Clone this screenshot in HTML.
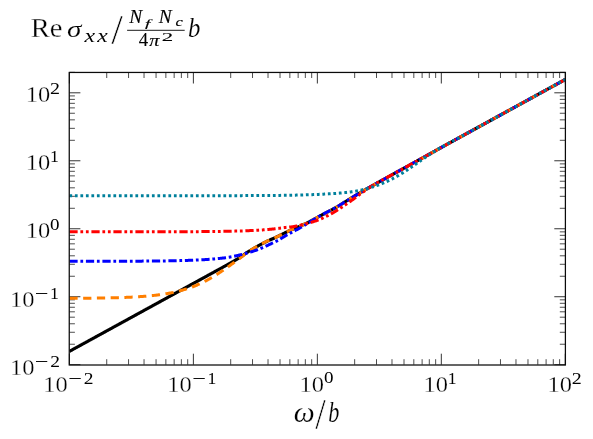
<!DOCTYPE html>
<html><head><meta charset="utf-8"><title>plot</title>
<style>html,body{margin:0;padding:0;background:#fff}svg{display:block}text{font-family:"Liberation Serif",serif;fill:#000}.i{font-style:italic}</style></head><body>
<svg width="593" height="439" viewBox="0 0 593 439">
<rect width="593" height="439" fill="#fff"/>
<defs><clipPath id="c"><rect x="69.40" y="72.50" width="495.90" height="292.20"/></clipPath></defs>
<path d="M69.40,364.70v-11.00 M69.40,72.50v11.00 M193.38,364.70v-11.00 M193.38,72.50v11.00 M317.35,364.70v-11.00 M317.35,72.50v11.00 M441.32,364.70v-11.00 M441.32,72.50v11.00 M565.30,364.70v-11.00 M565.30,72.50v11.00 M69.40,364.70h11.00 M565.30,364.70h-11.00 M69.40,296.73h11.00 M565.30,296.73h-11.00 M69.40,228.75h11.00 M565.30,228.75h-11.00 M69.40,160.78h11.00 M565.30,160.78h-11.00 M69.40,92.80h11.00 M565.30,92.80h-11.00" stroke="#000" stroke-width="0.8" fill="none"/>
<path d="M106.72,364.70v-5.50 M106.72,72.50v5.50 M128.55,364.70v-5.50 M128.55,72.50v5.50 M144.04,364.70v-5.50 M144.04,72.50v5.50 M156.05,364.70v-5.50 M156.05,72.50v5.50 M165.87,364.70v-5.50 M165.87,72.50v5.50 M174.17,364.70v-5.50 M174.17,72.50v5.50 M181.36,364.70v-5.50 M181.36,72.50v5.50 M187.70,364.70v-5.50 M187.70,72.50v5.50 M230.70,364.70v-5.50 M230.70,72.50v5.50 M252.53,364.70v-5.50 M252.53,72.50v5.50 M268.02,364.70v-5.50 M268.02,72.50v5.50 M280.03,364.70v-5.50 M280.03,72.50v5.50 M289.85,364.70v-5.50 M289.85,72.50v5.50 M298.15,364.70v-5.50 M298.15,72.50v5.50 M305.34,364.70v-5.50 M305.34,72.50v5.50 M311.68,364.70v-5.50 M311.68,72.50v5.50 M354.67,364.70v-5.50 M354.67,72.50v5.50 M376.50,364.70v-5.50 M376.50,72.50v5.50 M391.99,364.70v-5.50 M391.99,72.50v5.50 M404.00,364.70v-5.50 M404.00,72.50v5.50 M413.82,364.70v-5.50 M413.82,72.50v5.50 M422.12,364.70v-5.50 M422.12,72.50v5.50 M429.31,364.70v-5.50 M429.31,72.50v5.50 M435.65,364.70v-5.50 M435.65,72.50v5.50 M478.65,364.70v-5.50 M478.65,72.50v5.50 M500.48,364.70v-5.50 M500.48,72.50v5.50 M515.97,364.70v-5.50 M515.97,72.50v5.50 M527.98,364.70v-5.50 M527.98,72.50v5.50 M537.80,364.70v-5.50 M537.80,72.50v5.50 M546.10,364.70v-5.50 M546.10,72.50v5.50 M553.29,364.70v-5.50 M553.29,72.50v5.50 M559.63,364.70v-5.50 M559.63,72.50v5.50 M69.40,344.24h5.50 M565.30,344.24h-5.50 M69.40,332.27h5.50 M565.30,332.27h-5.50 M69.40,323.77h5.50 M565.30,323.77h-5.50 M69.40,317.19h5.50 M565.30,317.19h-5.50 M69.40,311.81h5.50 M565.30,311.81h-5.50 M69.40,307.25h5.50 M565.30,307.25h-5.50 M69.40,303.31h5.50 M565.30,303.31h-5.50 M69.40,299.84h5.50 M565.30,299.84h-5.50 M69.40,276.26h5.50 M565.30,276.26h-5.50 M69.40,264.29h5.50 M565.30,264.29h-5.50 M69.40,255.80h5.50 M565.30,255.80h-5.50 M69.40,249.21h5.50 M565.30,249.21h-5.50 M69.40,243.83h5.50 M565.30,243.83h-5.50 M69.40,239.28h5.50 M565.30,239.28h-5.50 M69.40,235.34h5.50 M565.30,235.34h-5.50 M69.40,231.86h5.50 M565.30,231.86h-5.50 M69.40,208.29h5.50 M565.30,208.29h-5.50 M69.40,196.32h5.50 M565.30,196.32h-5.50 M69.40,187.82h5.50 M565.30,187.82h-5.50 M69.40,181.24h5.50 M565.30,181.24h-5.50 M69.40,175.86h5.50 M565.30,175.86h-5.50 M69.40,171.30h5.50 M565.30,171.30h-5.50 M69.40,167.36h5.50 M565.30,167.36h-5.50 M69.40,163.89h5.50 M565.30,163.89h-5.50 M69.40,140.31h5.50 M565.30,140.31h-5.50 M69.40,128.34h5.50 M565.30,128.34h-5.50 M69.40,119.85h5.50 M565.30,119.85h-5.50 M69.40,113.26h5.50 M565.30,113.26h-5.50 M69.40,107.88h5.50 M565.30,107.88h-5.50 M69.40,103.33h5.50 M565.30,103.33h-5.50 M69.40,99.39h5.50 M565.30,99.39h-5.50 M69.40,95.91h5.50 M565.30,95.91h-5.50 M69.40,72.34h5.50 M565.30,72.34h-5.50" stroke="#000" stroke-width="0.7" fill="none"/>
<g clip-path="url(#c)" fill="none" stroke-width="3.00">
<path d="M69.40,351.37 L70.02,351.03 L70.64,350.69 L71.26,350.35 L71.88,350.01 L72.50,349.67 L73.12,349.33 L73.74,348.99 L74.36,348.65 L74.98,348.31 L75.60,347.97 L76.22,347.63 L76.84,347.29 L77.46,346.95 L78.08,346.61 L78.70,346.27 L79.32,345.93 L79.94,345.59 L80.56,345.25 L81.18,344.91 L81.80,344.57 L82.42,344.23 L83.04,343.89 L83.66,343.55 L84.28,343.21 L84.90,342.87 L85.52,342.53 L86.14,342.19 L86.76,341.85 L87.38,341.51 L88.00,341.17 L88.62,340.83 L89.24,340.49 L89.86,340.15 L90.48,339.81 L91.10,339.47 L91.72,339.13 L92.34,338.79 L92.96,338.45 L93.58,338.11 L94.19,337.77 L94.81,337.43 L95.43,337.09 L96.05,336.75 L96.67,336.41 L97.29,336.07 L97.91,335.73 L98.53,335.39 L99.15,335.05 L99.77,334.71 L100.39,334.38 L101.01,334.04 L101.63,333.70 L102.25,333.36 L102.87,333.02 L103.49,332.68 L104.11,332.34 L104.73,332.00 L105.35,331.66 L105.97,331.32 L106.59,330.98 L107.21,330.64 L107.83,330.30 L108.45,329.96 L109.07,329.62 L109.69,329.28 L110.31,328.94 L110.93,328.60 L111.55,328.26 L112.17,327.92 L112.79,327.58 L113.41,327.24 L114.03,326.90 L114.65,326.56 L115.27,326.22 L115.89,325.88 L116.51,325.54 L117.13,325.20 L117.75,324.86 L118.37,324.52 L118.99,324.18 L119.61,323.84 L120.23,323.50 L120.85,323.16 L121.47,322.82 L122.09,322.48 L122.71,322.14 L123.33,321.80 L123.95,321.46 L124.57,321.12 L125.19,320.78 L125.81,320.44 L126.43,320.10 L127.05,319.76 L127.67,319.42 L128.29,319.08 L128.91,318.74 L129.53,318.40 L130.15,318.06 L130.77,317.72 L131.39,317.38 L132.01,317.04 L132.63,316.70 L133.25,316.36 L133.87,316.02 L134.49,315.68 L135.11,315.34 L135.73,315.00 L136.35,314.66 L136.97,314.32 L137.59,313.98 L138.21,313.64 L138.83,313.30 L139.45,312.96 L140.07,312.62 L140.69,312.28 L141.31,311.94 L141.93,311.60 L142.55,311.26 L143.17,310.92 L143.79,310.58 L144.40,310.24 L145.02,309.90 L145.64,309.56 L146.26,309.22 L146.88,308.88 L147.50,308.54 L148.12,308.20 L148.74,307.86 L149.36,307.52 L149.98,307.19 L150.60,306.85 L151.22,306.51 L151.84,306.17 L152.46,305.83 L153.08,305.49 L153.70,305.15 L154.32,304.81 L154.94,304.47 L155.56,304.13 L156.18,303.79 L156.80,303.45 L157.42,303.11 L158.04,302.77 L158.66,302.43 L159.28,302.09 L159.90,301.75 L160.52,301.41 L161.14,301.07 L161.76,300.73 L162.38,300.39 L163.00,300.05 L163.62,299.71 L164.24,299.37 L164.86,299.03 L165.48,298.69 L166.10,298.35 L166.72,298.01 L167.34,297.67 L167.96,297.33 L168.58,296.99 L169.20,296.65 L169.82,296.31 L170.44,295.97 L171.06,295.63 L171.68,295.29 L172.30,294.95 L172.92,294.61 L173.54,294.27 L174.16,293.93 L174.78,293.59 L175.40,293.25 L176.02,292.91 L176.64,292.57 L177.26,292.23 L177.88,291.89 L178.50,291.55 L179.12,291.21 L179.74,290.87 L180.36,290.53 L180.98,290.19 L181.60,289.85 L182.22,289.51 L182.84,289.17 L183.46,288.83 L184.08,288.49 L184.70,288.15 L185.32,287.81 L185.94,287.47 L186.56,287.13 L187.18,286.79 L187.80,286.45 L188.42,286.11 L189.04,285.77 L189.66,285.43 L190.28,285.09 L190.90,284.75 L191.52,284.41 L192.14,284.07 L192.76,283.73 L193.38,283.39 L193.99,283.05 L194.61,282.71 L195.23,282.37 L195.85,282.03 L196.47,281.69 L197.09,281.35 L197.71,281.01 L198.33,280.67 L198.95,280.33 L199.57,280.00 L200.19,279.66 L200.81,279.32 L201.43,278.98 L202.05,278.64 L202.67,278.30 L203.29,277.96 L203.91,277.62 L204.53,277.28 L205.15,276.94 L205.77,276.60 L206.39,276.26 L207.01,275.92 L207.63,275.58 L208.25,275.24 L208.87,274.90 L209.49,274.56 L210.11,274.22 L210.73,273.88 L211.35,273.54 L211.97,273.20 L212.59,272.86 L213.21,272.52 L213.83,272.18 L214.45,271.84 L215.07,271.50 L215.69,271.16 L216.31,270.82 L216.93,270.48 L217.55,270.14 L218.17,269.80 L218.79,269.46 L219.41,269.12 L220.03,268.78 L220.65,268.44 L221.27,268.10 L221.89,267.76 L222.51,267.42 L223.13,267.08 L223.75,266.74 L224.37,266.40 L224.99,266.06 L225.61,265.72 L226.23,265.38 L226.85,265.03 L227.47,264.69 L228.09,264.34 L228.71,263.99 L229.33,263.64 L229.95,263.29 L230.57,262.94 L231.19,262.59 L231.81,262.23 L232.43,261.88 L233.05,261.52 L233.67,261.16 L234.29,260.80 L234.91,260.44 L235.53,260.08 L236.15,259.71 L236.77,259.35 L237.39,258.98 L238.01,258.62 L238.63,258.25 L239.25,257.88 L239.87,257.51 L240.49,257.13 L241.11,256.72 L241.73,256.29 L242.35,255.85 L242.97,255.39 L243.58,254.93 L244.20,254.46 L244.82,254.00 L245.44,253.55 L246.06,253.11 L246.68,252.69 L247.30,252.30 L247.92,251.91 L248.54,251.52 L249.16,251.14 L249.78,250.76 L250.40,250.38 L251.02,250.00 L251.64,249.63 L252.26,249.27 L252.88,248.90 L253.50,248.54 L254.12,248.18 L254.74,247.83 L255.36,247.47 L255.98,247.12 L256.60,246.77 L257.22,246.41 L257.84,246.06 L258.46,245.72 L259.08,245.37 L259.70,245.03 L260.32,244.69 L260.94,244.35 L261.56,244.02 L262.18,243.70 L262.80,243.38 L263.42,243.06 L264.04,242.75 L264.66,242.44 L265.28,242.13 L265.90,241.82 L266.52,241.51 L267.14,241.21 L267.76,240.91 L268.38,240.62 L269.00,240.35 L269.62,240.08 L270.24,239.82 L270.86,239.56 L271.48,239.29 L272.10,239.03 L272.72,238.76 L273.34,238.49 L273.96,238.21 L274.58,237.92 L275.20,237.62 L275.82,237.33 L276.44,237.03 L277.06,236.73 L277.68,236.43 L278.30,236.13 L278.92,235.82 L279.54,235.52 L280.16,235.22 L280.78,234.92 L281.40,234.62 L282.02,234.31 L282.64,234.00 L283.26,233.70 L283.88,233.39 L284.50,233.08 L285.12,232.78 L285.74,232.47 L286.36,232.17 L286.98,231.86 L287.60,231.56 L288.22,231.26 L288.84,230.97 L289.46,230.67 L290.08,230.38 L290.70,230.09 L291.32,229.82 L291.94,229.54 L292.56,229.28 L293.17,229.01 L293.79,228.75 L294.41,228.49 L295.03,228.24 L295.65,227.98 L296.27,227.73 L296.89,227.47 L297.51,227.21 L298.13,226.95 L298.75,226.68 L299.37,226.41 L299.99,226.13 L300.61,225.86 L301.23,225.58 L301.85,225.31 L302.47,225.03 L303.09,224.76 L303.71,224.49 L304.33,224.21 L304.95,223.93 L305.57,223.65 L306.19,223.36 L306.81,223.07 L307.43,222.77 L308.05,222.47 L308.67,222.15 L309.29,221.83 L309.91,221.50 L310.53,221.16 L311.15,220.82 L311.77,220.48 L312.39,220.14 L313.01,219.80 L313.63,219.46 L314.25,219.12 L314.87,218.78 L315.49,218.44 L316.11,218.10 L316.73,217.76 L317.35,217.42 L317.97,217.08 L318.59,216.74 L319.21,216.40 L319.83,216.06 L320.45,215.72 L321.07,215.38 L321.69,215.05 L322.31,214.72 L322.93,214.39 L323.55,214.07 L324.17,213.74 L324.79,213.42 L325.41,213.10 L326.03,212.78 L326.65,212.46 L327.27,212.14 L327.89,211.82 L328.51,211.50 L329.13,211.18 L329.75,210.86 L330.37,210.53 L330.99,210.21 L331.61,209.88 L332.23,209.55 L332.85,209.22 L333.47,208.88 L334.09,208.54 L334.71,208.20 L335.33,207.85 L335.95,207.49 L336.57,207.12 L337.19,206.76 L337.81,206.38 L338.43,206.01 L339.05,205.62 L339.67,205.24 L340.29,204.85 L340.91,204.46 L341.53,204.08 L342.14,203.68 L342.76,203.29 L343.38,202.90 L344.00,202.51 L344.62,202.13 L345.24,201.74 L345.86,201.36 L346.48,200.98 L347.10,200.60 L347.72,200.22 L348.34,199.85 L348.96,199.47 L349.58,199.09 L350.20,198.72 L350.82,198.34 L351.44,197.96 L352.06,197.58 L352.68,197.21 L353.30,196.83 L353.92,196.46 L354.54,196.08 L355.16,195.71 L355.78,195.34 L356.40,194.96 L357.02,194.59 L357.64,194.22 L358.26,193.86 L358.88,193.49 L359.50,193.13 L360.12,192.76 L360.74,192.40 L361.36,192.04 L361.98,191.68 L362.60,191.32 L363.22,190.95 L363.84,190.59 L364.46,190.23 L365.08,189.87 L365.70,189.51 L366.32,189.16 L366.94,188.80 L367.56,188.44 L368.18,188.08 L368.80,187.73 L369.42,187.37 L370.04,187.02 L370.66,186.66 L371.28,186.31 L371.90,185.96 L372.52,185.61 L373.14,185.25 L373.76,184.91 L374.38,184.56 L375.00,184.21 L375.62,183.86 L376.24,183.52 L376.86,183.17 L377.48,182.83 L378.10,182.48 L378.72,182.14 L379.34,181.79 L379.96,181.45 L380.58,181.10 L381.20,180.76 L381.82,180.41 L382.44,180.07 L383.06,179.73 L383.68,179.38 L384.30,179.04 L384.92,178.70 L385.54,178.35 L386.16,178.01 L386.78,177.67 L387.40,177.33 L388.02,176.98 L388.64,176.64 L389.26,176.30 L389.88,175.95 L390.50,175.61 L391.12,175.27 L391.74,174.93 L392.35,174.58 L392.97,174.24 L393.59,173.90 L394.21,173.56 L394.83,173.21 L395.45,172.87 L396.07,172.53 L396.69,172.19 L397.31,171.85 L397.93,171.50 L398.55,171.16 L399.17,170.82 L399.79,170.48 L400.41,170.14 L401.03,169.80 L401.65,169.45 L402.27,169.11 L402.89,168.77 L403.51,168.43 L404.13,168.09 L404.75,167.75 L405.37,167.40 L405.99,167.06 L406.61,166.72 L407.23,166.38 L407.85,166.04 L408.47,165.70 L409.09,165.36 L409.71,165.01 L410.33,164.67 L410.95,164.33 L411.57,163.99 L412.19,163.65 L412.81,163.30 L413.43,162.96 L414.05,162.62 L414.67,162.28 L415.29,161.94 L415.91,161.60 L416.53,161.25 L417.15,160.91 L417.77,160.57 L418.39,160.23 L419.01,159.88 L419.63,159.54 L420.25,159.20 L420.87,158.86 L421.49,158.51 L422.11,158.17 L422.73,157.83 L423.35,157.48 L423.97,157.14 L424.59,156.79 L425.21,156.45 L425.83,156.10 L426.45,155.76 L427.07,155.41 L427.69,155.07 L428.31,154.72 L428.93,154.38 L429.55,154.03 L430.17,153.69 L430.79,153.34 L431.41,153.00 L432.03,152.65 L432.65,152.31 L433.27,151.96 L433.89,151.62 L434.51,151.27 L435.13,150.92 L435.75,150.58 L436.37,150.23 L436.99,149.89 L437.61,149.54 L438.23,149.20 L438.85,148.85 L439.47,148.51 L440.09,148.16 L440.71,147.82 L441.32,147.48 L441.94,147.13 L442.56,146.79 L443.18,146.45 L443.80,146.10 L444.42,145.76 L445.04,145.42 L445.66,145.07 L446.28,144.73 L446.90,144.39 L447.52,144.05 L448.14,143.71 L448.76,143.37 L449.38,143.03 L450.00,142.69 L450.62,142.35 L451.24,142.01 L451.86,141.67 L452.48,141.33 L453.10,140.99 L453.72,140.65 L454.34,140.31 L454.96,139.97 L455.58,139.63 L456.20,139.29 L456.82,138.95 L457.44,138.61 L458.06,138.27 L458.68,137.93 L459.30,137.59 L459.92,137.25 L460.54,136.91 L461.16,136.57 L461.78,136.23 L462.40,135.89 L463.02,135.55 L463.64,135.21 L464.26,134.87 L464.88,134.53 L465.50,134.19 L466.12,133.85 L466.74,133.51 L467.36,133.17 L467.98,132.83 L468.60,132.49 L469.22,132.15 L469.84,131.81 L470.46,131.47 L471.08,131.13 L471.70,130.79 L472.32,130.45 L472.94,130.11 L473.56,129.77 L474.18,129.43 L474.80,129.09 L475.42,128.75 L476.04,128.41 L476.66,128.07 L477.28,127.73 L477.90,127.39 L478.52,127.05 L479.14,126.71 L479.76,126.37 L480.38,126.03 L481.00,125.69 L481.62,125.35 L482.24,125.01 L482.86,124.67 L483.48,124.33 L484.10,123.99 L484.72,123.65 L485.34,123.31 L485.96,122.97 L486.58,122.63 L487.20,122.29 L487.82,121.95 L488.44,121.61 L489.06,121.27 L489.68,120.93 L490.30,120.59 L490.91,120.25 L491.53,119.91 L492.15,119.57 L492.77,119.23 L493.39,118.89 L494.01,118.55 L494.63,118.21 L495.25,117.87 L495.87,117.53 L496.49,117.19 L497.11,116.86 L497.73,116.52 L498.35,116.18 L498.97,115.84 L499.59,115.50 L500.21,115.16 L500.83,114.82 L501.45,114.48 L502.07,114.14 L502.69,113.80 L503.31,113.46 L503.93,113.12 L504.55,112.78 L505.17,112.44 L505.79,112.10 L506.41,111.76 L507.03,111.42 L507.65,111.08 L508.27,110.74 L508.89,110.40 L509.51,110.06 L510.13,109.72 L510.75,109.38 L511.37,109.04 L511.99,108.70 L512.61,108.36 L513.23,108.02 L513.85,107.68 L514.47,107.34 L515.09,107.00 L515.71,106.66 L516.33,106.32 L516.95,105.98 L517.57,105.64 L518.19,105.30 L518.81,104.96 L519.43,104.62 L520.05,104.28 L520.67,103.94 L521.29,103.60 L521.91,103.26 L522.53,102.92 L523.15,102.58 L523.77,102.24 L524.39,101.90 L525.01,101.56 L525.63,101.22 L526.25,100.88 L526.87,100.54 L527.49,100.20 L528.11,99.86 L528.73,99.52 L529.35,99.18 L529.97,98.84 L530.59,98.50 L531.21,98.16 L531.83,97.82 L532.45,97.48 L533.07,97.14 L533.69,96.80 L534.31,96.46 L534.93,96.12 L535.55,95.78 L536.17,95.44 L536.79,95.10 L537.41,94.76 L538.03,94.42 L538.65,94.08 L539.27,93.74 L539.89,93.40 L540.50,93.06 L541.12,92.72 L541.74,92.38 L542.36,92.04 L542.98,91.70 L543.60,91.36 L544.22,91.02 L544.84,90.68 L545.46,90.34 L546.08,90.00 L546.70,89.67 L547.32,89.33 L547.94,88.99 L548.56,88.65 L549.18,88.31 L549.80,87.97 L550.42,87.63 L551.04,87.29 L551.66,86.95 L552.28,86.61 L552.90,86.27 L553.52,85.93 L554.14,85.59 L554.76,85.25 L555.38,84.91 L556.00,84.57 L556.62,84.23 L557.24,83.89 L557.86,83.55 L558.48,83.21 L559.10,82.87 L559.72,82.53 L560.34,82.19 L560.96,81.85 L561.58,81.51 L562.20,81.17 L562.82,80.83 L563.44,80.49 L564.06,80.15 L564.68,79.81 L565.30,79.47" stroke="#000000" stroke-width="3.15"/>
<path d="M69.40,298.34 L70.02,298.33 L70.64,298.33 L71.26,298.33 L71.88,298.32 L72.50,298.32 L73.12,298.32 L73.74,298.31 L74.36,298.31 L74.98,298.31 L75.60,298.30 L76.22,298.30 L76.84,298.29 L77.46,298.29 L78.08,298.29 L78.70,298.28 L79.32,298.28 L79.94,298.27 L80.56,298.27 L81.18,298.26 L81.80,298.26 L82.42,298.25 L83.04,298.25 L83.66,298.24 L84.28,298.24 L84.90,298.23 L85.52,298.23 L86.14,298.22 L86.76,298.21 L87.38,298.21 L88.00,298.20 L88.62,298.20 L89.24,298.19 L89.86,298.18 L90.48,298.18 L91.10,298.17 L91.72,298.16 L92.34,298.15 L92.96,298.15 L93.58,298.14 L94.19,298.13 L94.81,298.12 L95.43,298.12 L96.05,298.11 L96.67,298.10 L97.29,298.09 L97.91,298.08 L98.53,298.07 L99.15,298.06 L99.77,298.05 L100.39,298.04 L101.01,298.03 L101.63,298.02 L102.25,298.01 L102.87,298.00 L103.49,297.99 L104.11,297.98 L104.73,297.97 L105.35,297.96 L105.97,297.95 L106.59,297.93 L107.21,297.92 L107.83,297.91 L108.45,297.89 L109.07,297.88 L109.69,297.87 L110.31,297.85 L110.93,297.84 L111.55,297.82 L112.17,297.81 L112.79,297.79 L113.41,297.78 L114.03,297.76 L114.65,297.75 L115.27,297.73 L115.89,297.71 L116.51,297.69 L117.13,297.68 L117.75,297.66 L118.37,297.64 L118.99,297.62 L119.61,297.60 L120.23,297.58 L120.85,297.56 L121.47,297.54 L122.09,297.52 L122.71,297.49 L123.33,297.47 L123.95,297.45 L124.57,297.42 L125.19,297.40 L125.81,297.38 L126.43,297.35 L127.05,297.32 L127.67,297.30 L128.29,297.27 L128.91,297.24 L129.53,297.21 L130.15,297.19 L130.77,297.16 L131.39,297.13 L132.01,297.10 L132.63,297.06 L133.25,297.03 L133.87,297.00 L134.49,296.96 L135.11,296.93 L135.73,296.89 L136.35,296.86 L136.97,296.82 L137.59,296.78 L138.21,296.74 L138.83,296.70 L139.45,296.66 L140.07,296.62 L140.69,296.58 L141.31,296.54 L141.93,296.49 L142.55,296.45 L143.17,296.40 L143.79,296.35 L144.40,296.31 L145.02,296.26 L145.64,296.21 L146.26,296.16 L146.88,296.10 L147.50,296.05 L148.12,295.99 L148.74,295.94 L149.36,295.88 L149.98,295.82 L150.60,295.76 L151.22,295.70 L151.84,295.64 L152.46,295.57 L153.08,295.51 L153.70,295.44 L154.32,295.37 L154.94,295.30 L155.56,295.23 L156.18,295.16 L156.80,295.08 L157.42,295.01 L158.04,294.93 L158.66,294.85 L159.28,294.77 L159.90,294.69 L160.52,294.60 L161.14,294.51 L161.76,294.43 L162.38,294.34 L163.00,294.24 L163.62,294.15 L164.24,294.05 L164.86,293.95 L165.48,293.85 L166.10,293.75 L166.72,293.65 L167.34,293.54 L167.96,293.43 L168.58,293.32 L169.20,293.21 L169.82,293.09 L170.44,292.97 L171.06,292.85 L171.68,292.73 L172.30,292.60 L172.92,292.48 L173.54,292.34 L174.16,292.21 L174.78,292.08 L175.40,291.94 L176.02,291.79 L176.64,291.65 L177.26,291.50 L177.88,291.35 L178.50,291.20 L179.12,291.04 L179.74,290.88 L180.36,290.72 L180.98,290.56 L181.60,290.39 L182.22,290.21 L182.84,290.04 L183.46,289.86 L184.08,289.68 L184.70,289.49 L185.32,289.30 L185.94,289.11 L186.56,288.92 L187.18,288.72 L187.80,288.51 L188.42,288.31 L189.04,288.10 L189.66,287.88 L190.28,287.66 L190.90,287.44 L191.52,287.22 L192.14,286.99 L192.76,286.75 L193.38,286.51 L193.99,286.27 L194.61,286.03 L195.23,285.78 L195.85,285.52 L196.47,285.26 L197.09,285.00 L197.71,284.73 L198.33,284.46 L198.95,284.19 L199.57,283.91 L200.19,283.62 L200.81,283.34 L201.43,283.04 L202.05,282.75 L202.67,282.45 L203.29,282.14 L203.91,281.83 L204.53,281.52 L205.15,281.20 L205.77,280.87 L206.39,280.55 L207.01,280.22 L207.63,279.88 L208.25,279.54 L208.87,279.20 L209.49,278.85 L210.11,278.49 L210.73,278.14 L211.35,277.78 L211.97,277.41 L212.59,277.04 L213.21,276.67 L213.83,276.29 L214.45,275.91 L215.07,275.53 L215.69,275.14 L216.31,274.75 L216.93,274.36 L217.55,273.96 L218.17,273.56 L218.79,273.16 L219.41,272.75 L220.03,272.34 L220.65,271.93 L221.27,271.51 L221.89,271.10 L222.51,270.68 L223.13,270.26 L223.75,269.83 L224.37,269.41 L224.99,268.98 L225.61,268.55 L226.23,268.12 L226.85,267.68 L227.47,267.25 L228.09,266.81 L228.71,266.37 L229.33,265.92 L229.95,265.48 L230.57,265.03 L231.19,264.58 L231.81,264.14 L232.43,263.69 L233.05,263.24 L233.67,262.79 L234.29,262.34 L234.91,261.89 L235.53,261.44 L236.15,260.99 L236.77,260.54 L237.39,260.09 L238.01,259.64 L238.63,259.19 L239.25,258.75 L239.87,258.30 L240.49,257.85 L241.11,257.37 L241.73,256.88 L242.35,256.37 L242.97,255.85 L243.58,255.33 L244.20,254.81 L244.82,254.30 L245.44,253.79 L246.06,253.31 L246.68,252.85 L247.30,252.42 L247.92,251.99 L248.54,251.57 L249.16,251.15 L249.78,250.74 L250.40,250.34 L251.02,249.94 L251.64,249.55 L252.26,249.16 L252.88,248.78 L253.50,248.41 L254.12,248.04 L254.74,247.67 L255.36,247.31 L255.98,246.95 L256.60,246.60 L257.22,246.24 L257.84,245.89 L258.46,245.55 L259.08,245.20 L259.70,244.86 L260.32,244.53 L260.94,244.20 L261.56,243.88 L262.18,243.56 L262.80,243.24 L263.42,242.93 L264.04,242.63 L264.66,242.33 L265.28,242.02 L265.90,241.72 L266.52,241.42 L267.14,241.13 L267.76,240.84 L268.38,240.56 L269.00,240.29 L269.62,240.03 L270.24,239.77 L270.86,239.52 L271.48,239.26 L272.10,239.00 L272.72,238.74 L273.34,238.47 L273.96,238.19 L274.58,237.91 L275.20,237.62 L275.82,237.32 L276.44,237.03 L277.06,236.73 L277.68,236.43 L278.30,236.13 L278.92,235.83 L279.54,235.53 L280.16,235.23 L280.78,234.93 L281.40,234.62 L282.02,234.32 L282.64,234.01 L283.26,233.71 L283.88,233.40 L284.50,233.09 L285.12,232.78 L285.74,232.48 L286.36,232.17 L286.98,231.87 L287.60,231.57 L288.22,231.27 L288.84,230.97 L289.46,230.67 L290.08,230.38 L290.70,230.10 L291.32,229.82 L291.94,229.54 L292.56,229.28 L293.17,229.01 L293.79,228.75 L294.41,228.50 L295.03,228.24 L295.65,227.98 L296.27,227.73 L296.89,227.47 L297.51,227.21 L298.13,226.95 L298.75,226.68 L299.37,226.41 L299.99,226.13 L300.61,225.86 L301.23,225.58 L301.85,225.31 L302.47,225.03 L303.09,224.76 L303.71,224.49 L304.33,224.21 L304.95,223.93 L305.57,223.65 L306.19,223.36 L306.81,223.07 L307.43,222.77 L308.05,222.47 L308.67,222.15 L309.29,221.83 L309.91,221.50 L310.53,221.16 L311.15,220.82 L311.77,220.48 L312.39,220.14 L313.01,219.80 L313.63,219.46 L314.25,219.12 L314.87,218.78 L315.49,218.44 L316.11,218.10 L316.73,217.76 L317.35,217.42 L317.97,217.08 L318.59,216.74 L319.21,216.40 L319.83,216.06 L320.45,215.72 L321.07,215.38 L321.69,215.05 L322.31,214.72 L322.93,214.39 L323.55,214.07 L324.17,213.74 L324.79,213.42 L325.41,213.10 L326.03,212.78 L326.65,212.46 L327.27,212.14 L327.89,211.82 L328.51,211.50 L329.13,211.18 L329.75,210.86 L330.37,210.53 L330.99,210.21 L331.61,209.88 L332.23,209.55 L332.85,209.22 L333.47,208.88 L334.09,208.54 L334.71,208.20 L335.33,207.85 L335.95,207.49 L336.57,207.12 L337.19,206.76 L337.81,206.38 L338.43,206.01 L339.05,205.62 L339.67,205.24 L340.29,204.85 L340.91,204.46 L341.53,204.08 L342.14,203.68 L342.76,203.29 L343.38,202.90 L344.00,202.51 L344.62,202.13 L345.24,201.74 L345.86,201.36 L346.48,200.98 L347.10,200.60 L347.72,200.22 L348.34,199.85 L348.96,199.47 L349.58,199.09 L350.20,198.72 L350.82,198.34 L351.44,197.96 L352.06,197.58 L352.68,197.21 L353.30,196.83 L353.92,196.46 L354.54,196.08 L355.16,195.71 L355.78,195.34 L356.40,194.96 L357.02,194.59 L357.64,194.22 L358.26,193.86 L358.88,193.49 L359.50,193.13 L360.12,192.76 L360.74,192.40 L361.36,192.04 L361.98,191.68 L362.60,191.32 L363.22,190.95 L363.84,190.59 L364.46,190.23 L365.08,189.87 L365.70,189.51 L366.32,189.16 L366.94,188.80 L367.56,188.44 L368.18,188.08 L368.80,187.73 L369.42,187.37 L370.04,187.02 L370.66,186.66 L371.28,186.31 L371.90,185.96 L372.52,185.61 L373.14,185.25 L373.76,184.91 L374.38,184.56 L375.00,184.21 L375.62,183.86 L376.24,183.52 L376.86,183.17 L377.48,182.83 L378.10,182.48 L378.72,182.14 L379.34,181.79 L379.96,181.45 L380.58,181.10 L381.20,180.76 L381.82,180.41 L382.44,180.07 L383.06,179.73 L383.68,179.38 L384.30,179.04 L384.92,178.70 L385.54,178.35 L386.16,178.01 L386.78,177.67 L387.40,177.33 L388.02,176.98 L388.64,176.64 L389.26,176.30 L389.88,175.95 L390.50,175.61 L391.12,175.27 L391.74,174.93 L392.35,174.58 L392.97,174.24 L393.59,173.90 L394.21,173.56 L394.83,173.21 L395.45,172.87 L396.07,172.53 L396.69,172.19 L397.31,171.85 L397.93,171.50 L398.55,171.16 L399.17,170.82 L399.79,170.48 L400.41,170.14 L401.03,169.80 L401.65,169.45 L402.27,169.11 L402.89,168.77 L403.51,168.43 L404.13,168.09 L404.75,167.75 L405.37,167.40 L405.99,167.06 L406.61,166.72 L407.23,166.38 L407.85,166.04 L408.47,165.70 L409.09,165.36 L409.71,165.01 L410.33,164.67 L410.95,164.33 L411.57,163.99 L412.19,163.65 L412.81,163.30 L413.43,162.96 L414.05,162.62 L414.67,162.28 L415.29,161.94 L415.91,161.60 L416.53,161.25 L417.15,160.91 L417.77,160.57 L418.39,160.23 L419.01,159.88 L419.63,159.54 L420.25,159.20 L420.87,158.86 L421.49,158.51 L422.11,158.17 L422.73,157.83 L423.35,157.48 L423.97,157.14 L424.59,156.79 L425.21,156.45 L425.83,156.10 L426.45,155.76 L427.07,155.41 L427.69,155.07 L428.31,154.72 L428.93,154.38 L429.55,154.03 L430.17,153.69 L430.79,153.34 L431.41,153.00 L432.03,152.65 L432.65,152.31 L433.27,151.96 L433.89,151.62 L434.51,151.27 L435.13,150.92 L435.75,150.58 L436.37,150.23 L436.99,149.89 L437.61,149.54 L438.23,149.20 L438.85,148.85 L439.47,148.51 L440.09,148.16 L440.71,147.82 L441.32,147.48 L441.94,147.13 L442.56,146.79 L443.18,146.45 L443.80,146.10 L444.42,145.76 L445.04,145.42 L445.66,145.07 L446.28,144.73 L446.90,144.39 L447.52,144.05 L448.14,143.71 L448.76,143.37 L449.38,143.03 L450.00,142.69 L450.62,142.35 L451.24,142.01 L451.86,141.67 L452.48,141.33 L453.10,140.99 L453.72,140.65 L454.34,140.31 L454.96,139.97 L455.58,139.63 L456.20,139.29 L456.82,138.95 L457.44,138.61 L458.06,138.27 L458.68,137.93 L459.30,137.59 L459.92,137.25 L460.54,136.91 L461.16,136.57 L461.78,136.23 L462.40,135.89 L463.02,135.55 L463.64,135.21 L464.26,134.87 L464.88,134.53 L465.50,134.19 L466.12,133.85 L466.74,133.51 L467.36,133.17 L467.98,132.83 L468.60,132.49 L469.22,132.15 L469.84,131.81 L470.46,131.47 L471.08,131.13 L471.70,130.79 L472.32,130.45 L472.94,130.11 L473.56,129.77 L474.18,129.43 L474.80,129.09 L475.42,128.75 L476.04,128.41 L476.66,128.07 L477.28,127.73 L477.90,127.39 L478.52,127.05 L479.14,126.71 L479.76,126.37 L480.38,126.03 L481.00,125.69 L481.62,125.35 L482.24,125.01 L482.86,124.67 L483.48,124.33 L484.10,123.99 L484.72,123.65 L485.34,123.31 L485.96,122.97 L486.58,122.63 L487.20,122.29 L487.82,121.95 L488.44,121.61 L489.06,121.27 L489.68,120.93 L490.30,120.59 L490.91,120.25 L491.53,119.91 L492.15,119.57 L492.77,119.23 L493.39,118.89 L494.01,118.55 L494.63,118.21 L495.25,117.87 L495.87,117.53 L496.49,117.19 L497.11,116.86 L497.73,116.52 L498.35,116.18 L498.97,115.84 L499.59,115.50 L500.21,115.16 L500.83,114.82 L501.45,114.48 L502.07,114.14 L502.69,113.80 L503.31,113.46 L503.93,113.12 L504.55,112.78 L505.17,112.44 L505.79,112.10 L506.41,111.76 L507.03,111.42 L507.65,111.08 L508.27,110.74 L508.89,110.40 L509.51,110.06 L510.13,109.72 L510.75,109.38 L511.37,109.04 L511.99,108.70 L512.61,108.36 L513.23,108.02 L513.85,107.68 L514.47,107.34 L515.09,107.00 L515.71,106.66 L516.33,106.32 L516.95,105.98 L517.57,105.64 L518.19,105.30 L518.81,104.96 L519.43,104.62 L520.05,104.28 L520.67,103.94 L521.29,103.60 L521.91,103.26 L522.53,102.92 L523.15,102.58 L523.77,102.24 L524.39,101.90 L525.01,101.56 L525.63,101.22 L526.25,100.88 L526.87,100.54 L527.49,100.20 L528.11,99.86 L528.73,99.52 L529.35,99.18 L529.97,98.84 L530.59,98.50 L531.21,98.16 L531.83,97.82 L532.45,97.48 L533.07,97.14 L533.69,96.80 L534.31,96.46 L534.93,96.12 L535.55,95.78 L536.17,95.44 L536.79,95.10 L537.41,94.76 L538.03,94.42 L538.65,94.08 L539.27,93.74 L539.89,93.40 L540.50,93.06 L541.12,92.72 L541.74,92.38 L542.36,92.04 L542.98,91.70 L543.60,91.36 L544.22,91.02 L544.84,90.68 L545.46,90.34 L546.08,90.00 L546.70,89.67 L547.32,89.33 L547.94,88.99 L548.56,88.65 L549.18,88.31 L549.80,87.97 L550.42,87.63 L551.04,87.29 L551.66,86.95 L552.28,86.61 L552.90,86.27 L553.52,85.93 L554.14,85.59 L554.76,85.25 L555.38,84.91 L556.00,84.57 L556.62,84.23 L557.24,83.89 L557.86,83.55 L558.48,83.21 L559.10,82.87 L559.72,82.53 L560.34,82.19 L560.96,81.85 L561.58,81.51 L562.20,81.17 L562.82,80.83 L563.44,80.49 L564.06,80.15 L564.68,79.81 L565.30,79.47" stroke="#ff7f00" stroke-dasharray="8.25 5.50"/>
<path d="M69.40,261.28 L70.02,261.28 L70.64,261.28 L71.26,261.28 L71.88,261.28 L72.50,261.28 L73.12,261.28 L73.74,261.28 L74.36,261.28 L74.98,261.28 L75.60,261.28 L76.22,261.28 L76.84,261.28 L77.46,261.28 L78.08,261.28 L78.70,261.28 L79.32,261.27 L79.94,261.27 L80.56,261.27 L81.18,261.27 L81.80,261.27 L82.42,261.27 L83.04,261.27 L83.66,261.27 L84.28,261.27 L84.90,261.27 L85.52,261.27 L86.14,261.27 L86.76,261.27 L87.38,261.27 L88.00,261.27 L88.62,261.27 L89.24,261.27 L89.86,261.27 L90.48,261.27 L91.10,261.27 L91.72,261.27 L92.34,261.26 L92.96,261.26 L93.58,261.26 L94.19,261.26 L94.81,261.26 L95.43,261.26 L96.05,261.26 L96.67,261.26 L97.29,261.26 L97.91,261.26 L98.53,261.26 L99.15,261.26 L99.77,261.26 L100.39,261.26 L101.01,261.25 L101.63,261.25 L102.25,261.25 L102.87,261.25 L103.49,261.25 L104.11,261.25 L104.73,261.25 L105.35,261.25 L105.97,261.25 L106.59,261.25 L107.21,261.25 L107.83,261.24 L108.45,261.24 L109.07,261.24 L109.69,261.24 L110.31,261.24 L110.93,261.24 L111.55,261.24 L112.17,261.24 L112.79,261.24 L113.41,261.23 L114.03,261.23 L114.65,261.23 L115.27,261.23 L115.89,261.23 L116.51,261.23 L117.13,261.23 L117.75,261.22 L118.37,261.22 L118.99,261.22 L119.61,261.22 L120.23,261.22 L120.85,261.22 L121.47,261.21 L122.09,261.21 L122.71,261.21 L123.33,261.21 L123.95,261.21 L124.57,261.20 L125.19,261.20 L125.81,261.20 L126.43,261.20 L127.05,261.20 L127.67,261.19 L128.29,261.19 L128.91,261.19 L129.53,261.19 L130.15,261.18 L130.77,261.18 L131.39,261.18 L132.01,261.18 L132.63,261.17 L133.25,261.17 L133.87,261.17 L134.49,261.17 L135.11,261.16 L135.73,261.16 L136.35,261.16 L136.97,261.15 L137.59,261.15 L138.21,261.15 L138.83,261.14 L139.45,261.14 L140.07,261.14 L140.69,261.13 L141.31,261.13 L141.93,261.13 L142.55,261.12 L143.17,261.12 L143.79,261.11 L144.40,261.11 L145.02,261.11 L145.64,261.10 L146.26,261.10 L146.88,261.09 L147.50,261.09 L148.12,261.08 L148.74,261.08 L149.36,261.07 L149.98,261.07 L150.60,261.06 L151.22,261.06 L151.84,261.05 L152.46,261.05 L153.08,261.04 L153.70,261.04 L154.32,261.03 L154.94,261.02 L155.56,261.02 L156.18,261.01 L156.80,261.00 L157.42,261.00 L158.04,260.99 L158.66,260.98 L159.28,260.98 L159.90,260.97 L160.52,260.96 L161.14,260.96 L161.76,260.95 L162.38,260.94 L163.00,260.93 L163.62,260.92 L164.24,260.91 L164.86,260.91 L165.48,260.90 L166.10,260.89 L166.72,260.88 L167.34,260.87 L167.96,260.86 L168.58,260.85 L169.20,260.84 L169.82,260.83 L170.44,260.82 L171.06,260.81 L171.68,260.80 L172.30,260.78 L172.92,260.77 L173.54,260.76 L174.16,260.75 L174.78,260.73 L175.40,260.72 L176.02,260.71 L176.64,260.70 L177.26,260.68 L177.88,260.67 L178.50,260.65 L179.12,260.64 L179.74,260.62 L180.36,260.61 L180.98,260.59 L181.60,260.58 L182.22,260.56 L182.84,260.54 L183.46,260.53 L184.08,260.51 L184.70,260.49 L185.32,260.47 L185.94,260.45 L186.56,260.43 L187.18,260.41 L187.80,260.39 L188.42,260.37 L189.04,260.35 L189.66,260.33 L190.28,260.31 L190.90,260.28 L191.52,260.26 L192.14,260.24 L192.76,260.21 L193.38,260.19 L193.99,260.16 L194.61,260.14 L195.23,260.11 L195.85,260.08 L196.47,260.05 L197.09,260.03 L197.71,260.00 L198.33,259.97 L198.95,259.94 L199.57,259.91 L200.19,259.87 L200.81,259.84 L201.43,259.81 L202.05,259.77 L202.67,259.74 L203.29,259.70 L203.91,259.67 L204.53,259.63 L205.15,259.59 L205.77,259.55 L206.39,259.51 L207.01,259.47 L207.63,259.43 L208.25,259.39 L208.87,259.35 L209.49,259.30 L210.11,259.26 L210.73,259.21 L211.35,259.16 L211.97,259.11 L212.59,259.06 L213.21,259.01 L213.83,258.96 L214.45,258.91 L215.07,258.86 L215.69,258.80 L216.31,258.74 L216.93,258.69 L217.55,258.63 L218.17,258.57 L218.79,258.50 L219.41,258.44 L220.03,258.38 L220.65,258.31 L221.27,258.24 L221.89,258.18 L222.51,258.11 L223.13,258.03 L223.75,257.96 L224.37,257.89 L224.99,257.81 L225.61,257.73 L226.23,257.65 L226.85,257.56 L227.47,257.47 L228.09,257.37 L228.71,257.27 L229.33,257.17 L229.95,257.06 L230.57,256.95 L231.19,256.83 L231.81,256.72 L232.43,256.60 L233.05,256.47 L233.67,256.34 L234.29,256.21 L234.91,256.08 L235.53,255.94 L236.15,255.81 L236.77,255.67 L237.39,255.52 L238.01,255.38 L238.63,255.23 L239.25,255.08 L239.87,254.92 L240.49,254.77 L241.11,254.61 L241.73,254.46 L242.35,254.30 L242.97,254.13 L243.58,253.97 L244.20,253.81 L244.82,253.64 L245.44,253.47 L246.06,253.31 L246.68,253.14 L247.30,252.97 L247.92,252.79 L248.54,252.62 L249.16,252.44 L249.78,252.26 L250.40,252.08 L251.02,251.89 L251.64,251.70 L252.26,251.51 L252.88,251.32 L253.50,251.12 L254.12,250.91 L254.74,250.70 L255.36,250.49 L255.98,250.27 L256.60,250.04 L257.22,249.81 L257.84,249.57 L258.46,249.33 L259.08,249.09 L259.70,248.84 L260.32,248.59 L260.94,248.33 L261.56,248.07 L262.18,247.81 L262.80,247.55 L263.42,247.28 L264.04,247.01 L264.66,246.74 L265.28,246.46 L265.90,246.17 L266.52,245.89 L267.14,245.60 L267.76,245.30 L268.38,245.01 L269.00,244.71 L269.62,244.41 L270.24,244.11 L270.86,243.81 L271.48,243.52 L272.10,243.24 L272.72,242.96 L273.34,242.68 L273.96,242.40 L274.58,242.11 L275.20,241.82 L275.82,241.52 L276.44,241.21 L277.06,240.88 L277.68,240.54 L278.30,240.19 L278.92,239.83 L279.54,239.46 L280.16,239.09 L280.78,238.72 L281.40,238.34 L282.02,237.96 L282.64,237.58 L283.26,237.19 L283.88,236.80 L284.50,236.40 L285.12,236.00 L285.74,235.62 L286.36,235.25 L286.98,234.89 L287.60,234.55 L288.22,234.21 L288.84,233.88 L289.46,233.56 L290.08,233.23 L290.70,232.91 L291.32,232.57 L291.94,232.24 L292.56,231.90 L293.17,231.56 L293.79,231.24 L294.41,230.91 L295.03,230.59 L295.65,230.27 L296.27,229.95 L296.89,229.63 L297.51,229.31 L298.13,228.97 L298.75,228.63 L299.37,228.29 L299.99,227.93 L300.61,227.56 L301.23,227.20 L301.85,226.84 L302.47,226.48 L303.09,226.12 L303.71,225.76 L304.33,225.40 L304.95,225.04 L305.57,224.67 L306.19,224.30 L306.81,223.93 L307.43,223.56 L308.05,223.18 L308.67,222.79 L309.29,222.40 L309.91,222.01 L310.53,221.61 L311.15,221.21 L311.77,220.82 L312.39,220.42 L313.01,220.03 L313.63,219.65 L314.25,219.27 L314.87,218.89 L315.49,218.51 L316.11,218.14 L316.73,217.77 L317.35,217.40 L317.97,217.03 L318.59,216.67 L319.21,216.31 L319.83,215.95 L320.45,215.60 L321.07,215.25 L321.69,214.91 L322.31,214.57 L322.93,214.23 L323.55,213.90 L324.17,213.58 L324.79,213.25 L325.41,212.93 L326.03,212.61 L326.65,212.29 L327.27,211.98 L327.89,211.66 L328.51,211.35 L329.13,211.03 L329.75,210.71 L330.37,210.40 L330.99,210.08 L331.61,209.76 L332.23,209.44 L332.85,209.11 L333.47,208.79 L334.09,208.46 L334.71,208.12 L335.33,207.77 L335.95,207.42 L336.57,207.07 L337.19,206.71 L337.81,206.34 L338.43,205.97 L339.05,205.59 L339.67,205.21 L340.29,204.83 L340.91,204.45 L341.53,204.06 L342.14,203.68 L342.76,203.29 L343.38,202.90 L344.00,202.51 L344.62,202.13 L345.24,201.74 L345.86,201.36 L346.48,200.98 L347.10,200.60 L347.72,200.23 L348.34,199.85 L348.96,199.48 L349.58,199.10 L350.20,198.72 L350.82,198.35 L351.44,197.97 L352.06,197.59 L352.68,197.21 L353.30,196.84 L353.92,196.46 L354.54,196.09 L355.16,195.71 L355.78,195.34 L356.40,194.97 L357.02,194.60 L357.64,194.23 L358.26,193.86 L358.88,193.49 L359.50,193.13 L360.12,192.76 L360.74,192.40 L361.36,192.04 L361.98,191.68 L362.60,191.32 L363.22,190.95 L363.84,190.59 L364.46,190.23 L365.08,189.87 L365.70,189.51 L366.32,189.16 L366.94,188.80 L367.56,188.44 L368.18,188.08 L368.80,187.73 L369.42,187.37 L370.04,187.02 L370.66,186.66 L371.28,186.31 L371.90,185.96 L372.52,185.61 L373.14,185.25 L373.76,184.91 L374.38,184.56 L375.00,184.21 L375.62,183.86 L376.24,183.52 L376.86,183.17 L377.48,182.83 L378.10,182.48 L378.72,182.14 L379.34,181.79 L379.96,181.45 L380.58,181.10 L381.20,180.76 L381.82,180.41 L382.44,180.07 L383.06,179.73 L383.68,179.38 L384.30,179.04 L384.92,178.70 L385.54,178.35 L386.16,178.01 L386.78,177.67 L387.40,177.33 L388.02,176.98 L388.64,176.64 L389.26,176.30 L389.88,175.95 L390.50,175.61 L391.12,175.27 L391.74,174.93 L392.35,174.58 L392.97,174.24 L393.59,173.90 L394.21,173.56 L394.83,173.21 L395.45,172.87 L396.07,172.53 L396.69,172.19 L397.31,171.85 L397.93,171.50 L398.55,171.16 L399.17,170.82 L399.79,170.48 L400.41,170.14 L401.03,169.80 L401.65,169.45 L402.27,169.11 L402.89,168.77 L403.51,168.43 L404.13,168.09 L404.75,167.75 L405.37,167.40 L405.99,167.06 L406.61,166.72 L407.23,166.38 L407.85,166.04 L408.47,165.70 L409.09,165.36 L409.71,165.01 L410.33,164.67 L410.95,164.33 L411.57,163.99 L412.19,163.65 L412.81,163.30 L413.43,162.96 L414.05,162.62 L414.67,162.28 L415.29,161.94 L415.91,161.60 L416.53,161.25 L417.15,160.91 L417.77,160.57 L418.39,160.23 L419.01,159.88 L419.63,159.54 L420.25,159.20 L420.87,158.86 L421.49,158.51 L422.11,158.17 L422.73,157.83 L423.35,157.48 L423.97,157.14 L424.59,156.79 L425.21,156.45 L425.83,156.10 L426.45,155.76 L427.07,155.41 L427.69,155.07 L428.31,154.72 L428.93,154.38 L429.55,154.03 L430.17,153.69 L430.79,153.34 L431.41,153.00 L432.03,152.65 L432.65,152.31 L433.27,151.96 L433.89,151.62 L434.51,151.27 L435.13,150.92 L435.75,150.58 L436.37,150.23 L436.99,149.89 L437.61,149.54 L438.23,149.20 L438.85,148.85 L439.47,148.51 L440.09,148.16 L440.71,147.82 L441.32,147.48 L441.94,147.13 L442.56,146.79 L443.18,146.45 L443.80,146.10 L444.42,145.76 L445.04,145.42 L445.66,145.07 L446.28,144.73 L446.90,144.39 L447.52,144.05 L448.14,143.71 L448.76,143.37 L449.38,143.03 L450.00,142.69 L450.62,142.35 L451.24,142.01 L451.86,141.67 L452.48,141.33 L453.10,140.99 L453.72,140.65 L454.34,140.31 L454.96,139.97 L455.58,139.63 L456.20,139.29 L456.82,138.95 L457.44,138.61 L458.06,138.27 L458.68,137.93 L459.30,137.59 L459.92,137.25 L460.54,136.91 L461.16,136.57 L461.78,136.23 L462.40,135.89 L463.02,135.55 L463.64,135.21 L464.26,134.87 L464.88,134.53 L465.50,134.19 L466.12,133.85 L466.74,133.51 L467.36,133.17 L467.98,132.83 L468.60,132.49 L469.22,132.15 L469.84,131.81 L470.46,131.47 L471.08,131.13 L471.70,130.79 L472.32,130.45 L472.94,130.11 L473.56,129.77 L474.18,129.43 L474.80,129.09 L475.42,128.75 L476.04,128.41 L476.66,128.07 L477.28,127.73 L477.90,127.39 L478.52,127.05 L479.14,126.71 L479.76,126.37 L480.38,126.03 L481.00,125.69 L481.62,125.35 L482.24,125.01 L482.86,124.67 L483.48,124.33 L484.10,123.99 L484.72,123.65 L485.34,123.31 L485.96,122.97 L486.58,122.63 L487.20,122.29 L487.82,121.95 L488.44,121.61 L489.06,121.27 L489.68,120.93 L490.30,120.59 L490.91,120.25 L491.53,119.91 L492.15,119.57 L492.77,119.23 L493.39,118.89 L494.01,118.55 L494.63,118.21 L495.25,117.87 L495.87,117.53 L496.49,117.19 L497.11,116.86 L497.73,116.52 L498.35,116.18 L498.97,115.84 L499.59,115.50 L500.21,115.16 L500.83,114.82 L501.45,114.48 L502.07,114.14 L502.69,113.80 L503.31,113.46 L503.93,113.12 L504.55,112.78 L505.17,112.44 L505.79,112.10 L506.41,111.76 L507.03,111.42 L507.65,111.08 L508.27,110.74 L508.89,110.40 L509.51,110.06 L510.13,109.72 L510.75,109.38 L511.37,109.04 L511.99,108.70 L512.61,108.36 L513.23,108.02 L513.85,107.68 L514.47,107.34 L515.09,107.00 L515.71,106.66 L516.33,106.32 L516.95,105.98 L517.57,105.64 L518.19,105.30 L518.81,104.96 L519.43,104.62 L520.05,104.28 L520.67,103.94 L521.29,103.60 L521.91,103.26 L522.53,102.92 L523.15,102.58 L523.77,102.24 L524.39,101.90 L525.01,101.56 L525.63,101.22 L526.25,100.88 L526.87,100.54 L527.49,100.20 L528.11,99.86 L528.73,99.52 L529.35,99.18 L529.97,98.84 L530.59,98.50 L531.21,98.16 L531.83,97.82 L532.45,97.48 L533.07,97.14 L533.69,96.80 L534.31,96.46 L534.93,96.12 L535.55,95.78 L536.17,95.44 L536.79,95.10 L537.41,94.76 L538.03,94.42 L538.65,94.08 L539.27,93.74 L539.89,93.40 L540.50,93.06 L541.12,92.72 L541.74,92.38 L542.36,92.04 L542.98,91.70 L543.60,91.36 L544.22,91.02 L544.84,90.68 L545.46,90.34 L546.08,90.00 L546.70,89.67 L547.32,89.33 L547.94,88.99 L548.56,88.65 L549.18,88.31 L549.80,87.97 L550.42,87.63 L551.04,87.29 L551.66,86.95 L552.28,86.61 L552.90,86.27 L553.52,85.93 L554.14,85.59 L554.76,85.25 L555.38,84.91 L556.00,84.57 L556.62,84.23 L557.24,83.89 L557.86,83.55 L558.48,83.21 L559.10,82.87 L559.72,82.53 L560.34,82.19 L560.96,81.85 L561.58,81.51 L562.20,81.17 L562.82,80.83 L563.44,80.49 L564.06,80.15 L564.68,79.81 L565.30,79.47" stroke="#0000ff" stroke-dasharray="8.25 2.75 2.75 2.75"/>
<path d="M69.40,231.81 L70.02,231.81 L70.64,231.81 L71.26,231.81 L71.88,231.81 L72.50,231.81 L73.12,231.81 L73.74,231.80 L74.36,231.80 L74.98,231.80 L75.60,231.80 L76.22,231.80 L76.84,231.80 L77.46,231.80 L78.08,231.80 L78.70,231.80 L79.32,231.80 L79.94,231.80 L80.56,231.80 L81.18,231.80 L81.80,231.80 L82.42,231.80 L83.04,231.80 L83.66,231.80 L84.28,231.80 L84.90,231.80 L85.52,231.80 L86.14,231.80 L86.76,231.80 L87.38,231.80 L88.00,231.80 L88.62,231.80 L89.24,231.80 L89.86,231.80 L90.48,231.80 L91.10,231.80 L91.72,231.80 L92.34,231.80 L92.96,231.80 L93.58,231.80 L94.19,231.80 L94.81,231.80 L95.43,231.80 L96.05,231.80 L96.67,231.80 L97.29,231.80 L97.91,231.80 L98.53,231.80 L99.15,231.80 L99.77,231.80 L100.39,231.80 L101.01,231.80 L101.63,231.80 L102.25,231.80 L102.87,231.80 L103.49,231.80 L104.11,231.80 L104.73,231.80 L105.35,231.80 L105.97,231.80 L106.59,231.80 L107.21,231.80 L107.83,231.80 L108.45,231.80 L109.07,231.80 L109.69,231.80 L110.31,231.80 L110.93,231.80 L111.55,231.80 L112.17,231.80 L112.79,231.80 L113.41,231.80 L114.03,231.80 L114.65,231.80 L115.27,231.80 L115.89,231.80 L116.51,231.80 L117.13,231.80 L117.75,231.80 L118.37,231.80 L118.99,231.80 L119.61,231.80 L120.23,231.80 L120.85,231.80 L121.47,231.80 L122.09,231.80 L122.71,231.80 L123.33,231.80 L123.95,231.80 L124.57,231.80 L125.19,231.79 L125.81,231.79 L126.43,231.79 L127.05,231.79 L127.67,231.79 L128.29,231.79 L128.91,231.79 L129.53,231.79 L130.15,231.79 L130.77,231.79 L131.39,231.79 L132.01,231.79 L132.63,231.79 L133.25,231.79 L133.87,231.79 L134.49,231.79 L135.11,231.79 L135.73,231.79 L136.35,231.79 L136.97,231.79 L137.59,231.79 L138.21,231.79 L138.83,231.79 L139.45,231.79 L140.07,231.79 L140.69,231.79 L141.31,231.79 L141.93,231.78 L142.55,231.78 L143.17,231.78 L143.79,231.78 L144.40,231.78 L145.02,231.78 L145.64,231.78 L146.26,231.78 L146.88,231.78 L147.50,231.78 L148.12,231.78 L148.74,231.78 L149.36,231.78 L149.98,231.78 L150.60,231.78 L151.22,231.78 L151.84,231.77 L152.46,231.77 L153.08,231.77 L153.70,231.77 L154.32,231.77 L154.94,231.77 L155.56,231.77 L156.18,231.77 L156.80,231.77 L157.42,231.77 L158.04,231.77 L158.66,231.77 L159.28,231.76 L159.90,231.76 L160.52,231.76 L161.14,231.76 L161.76,231.76 L162.38,231.76 L163.00,231.76 L163.62,231.76 L164.24,231.76 L164.86,231.75 L165.48,231.75 L166.10,231.75 L166.72,231.75 L167.34,231.75 L167.96,231.75 L168.58,231.75 L169.20,231.75 L169.82,231.74 L170.44,231.74 L171.06,231.74 L171.68,231.74 L172.30,231.74 L172.92,231.74 L173.54,231.74 L174.16,231.73 L174.78,231.73 L175.40,231.73 L176.02,231.73 L176.64,231.73 L177.26,231.72 L177.88,231.72 L178.50,231.72 L179.12,231.72 L179.74,231.72 L180.36,231.71 L180.98,231.71 L181.60,231.71 L182.22,231.71 L182.84,231.71 L183.46,231.70 L184.08,231.70 L184.70,231.70 L185.32,231.70 L185.94,231.69 L186.56,231.69 L187.18,231.69 L187.80,231.69 L188.42,231.68 L189.04,231.68 L189.66,231.68 L190.28,231.67 L190.90,231.67 L191.52,231.67 L192.14,231.66 L192.76,231.66 L193.38,231.66 L193.99,231.65 L194.61,231.65 L195.23,231.65 L195.85,231.64 L196.47,231.64 L197.09,231.64 L197.71,231.63 L198.33,231.63 L198.95,231.62 L199.57,231.62 L200.19,231.61 L200.81,231.61 L201.43,231.61 L202.05,231.60 L202.67,231.60 L203.29,231.59 L203.91,231.59 L204.53,231.58 L205.15,231.58 L205.77,231.57 L206.39,231.57 L207.01,231.56 L207.63,231.55 L208.25,231.55 L208.87,231.54 L209.49,231.54 L210.11,231.53 L210.73,231.52 L211.35,231.52 L211.97,231.51 L212.59,231.50 L213.21,231.50 L213.83,231.49 L214.45,231.48 L215.07,231.47 L215.69,231.47 L216.31,231.46 L216.93,231.45 L217.55,231.44 L218.17,231.43 L218.79,231.42 L219.41,231.42 L220.03,231.41 L220.65,231.40 L221.27,231.39 L221.89,231.38 L222.51,231.37 L223.13,231.36 L223.75,231.35 L224.37,231.34 L224.99,231.33 L225.61,231.31 L226.23,231.30 L226.85,231.29 L227.47,231.28 L228.09,231.27 L228.71,231.26 L229.33,231.24 L229.95,231.23 L230.57,231.22 L231.19,231.20 L231.81,231.19 L232.43,231.17 L233.05,231.16 L233.67,231.14 L234.29,231.13 L234.91,231.11 L235.53,231.10 L236.15,231.08 L236.77,231.06 L237.39,231.05 L238.01,231.03 L238.63,231.01 L239.25,230.99 L239.87,230.97 L240.49,230.95 L241.11,230.94 L241.73,230.92 L242.35,230.89 L242.97,230.87 L243.58,230.85 L244.20,230.83 L244.82,230.81 L245.44,230.78 L246.06,230.76 L246.68,230.74 L247.30,230.71 L247.92,230.69 L248.54,230.66 L249.16,230.63 L249.78,230.61 L250.40,230.58 L251.02,230.55 L251.64,230.52 L252.26,230.49 L252.88,230.46 L253.50,230.43 L254.12,230.40 L254.74,230.37 L255.36,230.34 L255.98,230.30 L256.60,230.27 L257.22,230.23 L257.84,230.20 L258.46,230.16 L259.08,230.12 L259.70,230.08 L260.32,230.04 L260.94,230.00 L261.56,229.96 L262.18,229.92 L262.80,229.88 L263.42,229.83 L264.04,229.79 L264.66,229.74 L265.28,229.69 L265.90,229.65 L266.52,229.60 L267.14,229.55 L267.76,229.50 L268.38,229.44 L269.00,229.39 L269.62,229.33 L270.24,229.28 L270.86,229.22 L271.48,229.16 L272.10,229.10 L272.72,229.04 L273.34,228.98 L273.96,228.92 L274.58,228.85 L275.20,228.78 L275.82,228.71 L276.44,228.65 L277.06,228.57 L277.68,228.50 L278.30,228.43 L278.92,228.35 L279.54,228.27 L280.16,228.19 L280.78,228.11 L281.40,228.03 L282.02,227.95 L282.64,227.86 L283.26,227.77 L283.88,227.68 L284.50,227.59 L285.12,227.50 L285.74,227.41 L286.36,227.33 L286.98,227.27 L287.60,227.21 L288.22,227.15 L288.84,227.10 L289.46,227.04 L290.08,226.99 L290.70,226.94 L291.32,226.88 L291.94,226.81 L292.56,226.73 L293.17,226.65 L293.79,226.55 L294.41,226.44 L295.03,226.32 L295.65,226.21 L296.27,226.08 L296.89,225.96 L297.51,225.83 L298.13,225.69 L298.75,225.55 L299.37,225.41 L299.99,225.27 L300.61,225.12 L301.23,224.97 L301.85,224.82 L302.47,224.66 L303.09,224.50 L303.71,224.34 L304.33,224.18 L304.95,224.02 L305.57,223.86 L306.19,223.69 L306.81,223.53 L307.43,223.36 L308.05,223.19 L308.67,223.02 L309.29,222.85 L309.91,222.68 L310.53,222.51 L311.15,222.33 L311.77,222.14 L312.39,221.96 L313.01,221.77 L313.63,221.58 L314.25,221.38 L314.87,221.17 L315.49,220.97 L316.11,220.75 L316.73,220.53 L317.35,220.31 L317.97,220.07 L318.59,219.83 L319.21,219.59 L319.83,219.33 L320.45,219.07 L321.07,218.81 L321.69,218.54 L322.31,218.26 L322.93,217.98 L323.55,217.70 L324.17,217.41 L324.79,217.12 L325.41,216.82 L326.03,216.52 L326.65,216.21 L327.27,215.90 L327.89,215.58 L328.51,215.26 L329.13,214.93 L329.75,214.60 L330.37,214.26 L330.99,213.92 L331.61,213.57 L332.23,213.22 L332.85,212.86 L333.47,212.50 L334.09,212.13 L334.71,211.76 L335.33,211.38 L335.95,211.00 L336.57,210.62 L337.19,210.23 L337.81,209.84 L338.43,209.45 L339.05,209.05 L339.67,208.65 L340.29,208.24 L340.91,207.83 L341.53,207.42 L342.14,207.01 L342.76,206.59 L343.38,206.17 L344.00,205.75 L344.62,205.32 L345.24,204.89 L345.86,204.47 L346.48,204.03 L347.10,203.60 L347.72,203.17 L348.34,202.73 L348.96,202.30 L349.58,201.86 L350.20,201.42 L350.82,200.98 L351.44,200.54 L352.06,200.10 L352.68,199.66 L353.30,199.22 L353.92,198.77 L354.54,198.32 L355.16,197.87 L355.78,197.41 L356.40,196.94 L357.02,196.48 L357.64,196.01 L358.26,195.54 L358.88,195.08 L359.50,194.61 L360.12,194.14 L360.74,193.68 L361.36,193.22 L361.98,192.76 L362.60,192.31 L363.22,191.86 L363.84,191.42 L364.46,190.99 L365.08,190.56 L365.70,190.13 L366.32,189.71 L366.94,189.29 L367.56,188.87 L368.18,188.46 L368.80,188.05 L369.42,187.65 L370.04,187.24 L370.66,186.85 L371.28,186.45 L371.90,186.06 L372.52,185.68 L373.14,185.30 L373.76,184.92 L374.38,184.55 L375.00,184.18 L375.62,183.82 L376.24,183.45 L376.86,183.10 L377.48,182.74 L378.10,182.38 L378.72,182.03 L379.34,181.68 L379.96,181.33 L380.58,180.98 L381.20,180.64 L381.82,180.29 L382.44,179.95 L383.06,179.61 L383.68,179.27 L384.30,178.93 L384.92,178.59 L385.54,178.25 L386.16,177.91 L386.78,177.57 L387.40,177.23 L388.02,176.90 L388.64,176.56 L389.26,176.22 L389.88,175.89 L390.50,175.55 L391.12,175.22 L391.74,174.88 L392.35,174.54 L392.97,174.21 L393.59,173.87 L394.21,173.53 L394.83,173.19 L395.45,172.85 L396.07,172.52 L396.69,172.18 L397.31,171.84 L397.93,171.50 L398.55,171.16 L399.17,170.82 L399.79,170.48 L400.41,170.14 L401.03,169.80 L401.65,169.46 L402.27,169.12 L402.89,168.77 L403.51,168.43 L404.13,168.09 L404.75,167.75 L405.37,167.41 L405.99,167.07 L406.61,166.72 L407.23,166.38 L407.85,166.04 L408.47,165.70 L409.09,165.36 L409.71,165.01 L410.33,164.67 L410.95,164.33 L411.57,163.99 L412.19,163.65 L412.81,163.30 L413.43,162.96 L414.05,162.62 L414.67,162.28 L415.29,161.94 L415.91,161.59 L416.53,161.25 L417.15,160.91 L417.77,160.57 L418.39,160.23 L419.01,159.88 L419.63,159.54 L420.25,159.20 L420.87,158.86 L421.49,158.51 L422.11,158.17 L422.73,157.83 L423.35,157.48 L423.97,157.14 L424.59,156.79 L425.21,156.45 L425.83,156.10 L426.45,155.76 L427.07,155.41 L427.69,155.07 L428.31,154.72 L428.93,154.38 L429.55,154.03 L430.17,153.69 L430.79,153.34 L431.41,153.00 L432.03,152.65 L432.65,152.31 L433.27,151.96 L433.89,151.62 L434.51,151.27 L435.13,150.92 L435.75,150.58 L436.37,150.23 L436.99,149.89 L437.61,149.54 L438.23,149.20 L438.85,148.85 L439.47,148.51 L440.09,148.16 L440.71,147.82 L441.32,147.48 L441.94,147.13 L442.56,146.79 L443.18,146.45 L443.80,146.10 L444.42,145.76 L445.04,145.42 L445.66,145.07 L446.28,144.73 L446.90,144.39 L447.52,144.05 L448.14,143.71 L448.76,143.37 L449.38,143.03 L450.00,142.69 L450.62,142.35 L451.24,142.01 L451.86,141.67 L452.48,141.33 L453.10,140.99 L453.72,140.65 L454.34,140.31 L454.96,139.97 L455.58,139.63 L456.20,139.29 L456.82,138.95 L457.44,138.61 L458.06,138.27 L458.68,137.93 L459.30,137.59 L459.92,137.25 L460.54,136.91 L461.16,136.57 L461.78,136.23 L462.40,135.89 L463.02,135.55 L463.64,135.21 L464.26,134.87 L464.88,134.53 L465.50,134.19 L466.12,133.85 L466.74,133.51 L467.36,133.17 L467.98,132.83 L468.60,132.49 L469.22,132.15 L469.84,131.81 L470.46,131.47 L471.08,131.13 L471.70,130.79 L472.32,130.45 L472.94,130.11 L473.56,129.77 L474.18,129.43 L474.80,129.09 L475.42,128.75 L476.04,128.41 L476.66,128.07 L477.28,127.73 L477.90,127.39 L478.52,127.05 L479.14,126.71 L479.76,126.37 L480.38,126.03 L481.00,125.69 L481.62,125.35 L482.24,125.01 L482.86,124.67 L483.48,124.33 L484.10,123.99 L484.72,123.65 L485.34,123.31 L485.96,122.97 L486.58,122.63 L487.20,122.29 L487.82,121.95 L488.44,121.61 L489.06,121.27 L489.68,120.93 L490.30,120.59 L490.91,120.25 L491.53,119.91 L492.15,119.57 L492.77,119.23 L493.39,118.89 L494.01,118.55 L494.63,118.21 L495.25,117.87 L495.87,117.53 L496.49,117.19 L497.11,116.86 L497.73,116.52 L498.35,116.18 L498.97,115.84 L499.59,115.50 L500.21,115.16 L500.83,114.82 L501.45,114.48 L502.07,114.14 L502.69,113.80 L503.31,113.46 L503.93,113.12 L504.55,112.78 L505.17,112.44 L505.79,112.10 L506.41,111.76 L507.03,111.42 L507.65,111.08 L508.27,110.74 L508.89,110.40 L509.51,110.06 L510.13,109.72 L510.75,109.38 L511.37,109.04 L511.99,108.70 L512.61,108.36 L513.23,108.02 L513.85,107.68 L514.47,107.34 L515.09,107.00 L515.71,106.66 L516.33,106.32 L516.95,105.98 L517.57,105.64 L518.19,105.30 L518.81,104.96 L519.43,104.62 L520.05,104.28 L520.67,103.94 L521.29,103.60 L521.91,103.26 L522.53,102.92 L523.15,102.58 L523.77,102.24 L524.39,101.90 L525.01,101.56 L525.63,101.22 L526.25,100.88 L526.87,100.54 L527.49,100.20 L528.11,99.86 L528.73,99.52 L529.35,99.18 L529.97,98.84 L530.59,98.50 L531.21,98.16 L531.83,97.82 L532.45,97.48 L533.07,97.14 L533.69,96.80 L534.31,96.46 L534.93,96.12 L535.55,95.78 L536.17,95.44 L536.79,95.10 L537.41,94.76 L538.03,94.42 L538.65,94.08 L539.27,93.74 L539.89,93.40 L540.50,93.06 L541.12,92.72 L541.74,92.38 L542.36,92.04 L542.98,91.70 L543.60,91.36 L544.22,91.02 L544.84,90.68 L545.46,90.34 L546.08,90.00 L546.70,89.67 L547.32,89.33 L547.94,88.99 L548.56,88.65 L549.18,88.31 L549.80,87.97 L550.42,87.63 L551.04,87.29 L551.66,86.95 L552.28,86.61 L552.90,86.27 L553.52,85.93 L554.14,85.59 L554.76,85.25 L555.38,84.91 L556.00,84.57 L556.62,84.23 L557.24,83.89 L557.86,83.55 L558.48,83.21 L559.10,82.87 L559.72,82.53 L560.34,82.19 L560.96,81.85 L561.58,81.51 L562.20,81.17 L562.82,80.83 L563.44,80.49 L564.06,80.15 L564.68,79.81 L565.30,79.47" stroke="#ff0000" stroke-dasharray="8.25 2.75 2.75 2.75 2.75 2.75"/>
<path d="M69.40,195.70 L70.02,195.70 L70.64,195.70 L71.26,195.70 L71.88,195.70 L72.50,195.70 L73.12,195.70 L73.74,195.70 L74.36,195.70 L74.98,195.70 L75.60,195.70 L76.22,195.70 L76.84,195.70 L77.46,195.70 L78.08,195.70 L78.70,195.70 L79.32,195.70 L79.94,195.70 L80.56,195.70 L81.18,195.70 L81.80,195.70 L82.42,195.70 L83.04,195.70 L83.66,195.70 L84.28,195.70 L84.90,195.70 L85.52,195.70 L86.14,195.70 L86.76,195.70 L87.38,195.70 L88.00,195.70 L88.62,195.70 L89.24,195.70 L89.86,195.70 L90.48,195.70 L91.10,195.70 L91.72,195.70 L92.34,195.70 L92.96,195.70 L93.58,195.70 L94.19,195.70 L94.81,195.70 L95.43,195.70 L96.05,195.70 L96.67,195.70 L97.29,195.70 L97.91,195.70 L98.53,195.70 L99.15,195.70 L99.77,195.70 L100.39,195.70 L101.01,195.70 L101.63,195.70 L102.25,195.70 L102.87,195.70 L103.49,195.70 L104.11,195.70 L104.73,195.70 L105.35,195.70 L105.97,195.70 L106.59,195.70 L107.21,195.70 L107.83,195.70 L108.45,195.70 L109.07,195.70 L109.69,195.70 L110.31,195.70 L110.93,195.70 L111.55,195.70 L112.17,195.70 L112.79,195.70 L113.41,195.70 L114.03,195.70 L114.65,195.70 L115.27,195.70 L115.89,195.70 L116.51,195.70 L117.13,195.70 L117.75,195.70 L118.37,195.70 L118.99,195.70 L119.61,195.70 L120.23,195.70 L120.85,195.70 L121.47,195.70 L122.09,195.70 L122.71,195.70 L123.33,195.70 L123.95,195.70 L124.57,195.70 L125.19,195.70 L125.81,195.70 L126.43,195.70 L127.05,195.70 L127.67,195.70 L128.29,195.70 L128.91,195.70 L129.53,195.70 L130.15,195.70 L130.77,195.70 L131.39,195.70 L132.01,195.70 L132.63,195.70 L133.25,195.70 L133.87,195.70 L134.49,195.70 L135.11,195.70 L135.73,195.70 L136.35,195.70 L136.97,195.70 L137.59,195.70 L138.21,195.70 L138.83,195.70 L139.45,195.70 L140.07,195.70 L140.69,195.70 L141.31,195.70 L141.93,195.70 L142.55,195.70 L143.17,195.70 L143.79,195.70 L144.40,195.70 L145.02,195.70 L145.64,195.70 L146.26,195.70 L146.88,195.70 L147.50,195.70 L148.12,195.70 L148.74,195.70 L149.36,195.70 L149.98,195.70 L150.60,195.70 L151.22,195.70 L151.84,195.70 L152.46,195.70 L153.08,195.70 L153.70,195.70 L154.32,195.70 L154.94,195.70 L155.56,195.70 L156.18,195.70 L156.80,195.70 L157.42,195.70 L158.04,195.70 L158.66,195.70 L159.28,195.70 L159.90,195.70 L160.52,195.70 L161.14,195.70 L161.76,195.70 L162.38,195.70 L163.00,195.70 L163.62,195.70 L164.24,195.70 L164.86,195.70 L165.48,195.70 L166.10,195.70 L166.72,195.70 L167.34,195.70 L167.96,195.70 L168.58,195.70 L169.20,195.70 L169.82,195.70 L170.44,195.70 L171.06,195.70 L171.68,195.70 L172.30,195.70 L172.92,195.70 L173.54,195.70 L174.16,195.70 L174.78,195.70 L175.40,195.70 L176.02,195.70 L176.64,195.70 L177.26,195.70 L177.88,195.70 L178.50,195.70 L179.12,195.70 L179.74,195.70 L180.36,195.70 L180.98,195.70 L181.60,195.70 L182.22,195.70 L182.84,195.69 L183.46,195.69 L184.08,195.69 L184.70,195.69 L185.32,195.69 L185.94,195.69 L186.56,195.69 L187.18,195.69 L187.80,195.69 L188.42,195.69 L189.04,195.69 L189.66,195.69 L190.28,195.69 L190.90,195.69 L191.52,195.69 L192.14,195.69 L192.76,195.69 L193.38,195.69 L193.99,195.69 L194.61,195.69 L195.23,195.69 L195.85,195.69 L196.47,195.69 L197.09,195.69 L197.71,195.69 L198.33,195.69 L198.95,195.69 L199.57,195.69 L200.19,195.69 L200.81,195.69 L201.43,195.69 L202.05,195.69 L202.67,195.69 L203.29,195.68 L203.91,195.68 L204.53,195.68 L205.15,195.68 L205.77,195.68 L206.39,195.68 L207.01,195.68 L207.63,195.68 L208.25,195.68 L208.87,195.68 L209.49,195.68 L210.11,195.68 L210.73,195.68 L211.35,195.68 L211.97,195.68 L212.59,195.68 L213.21,195.68 L213.83,195.68 L214.45,195.68 L215.07,195.67 L215.69,195.67 L216.31,195.67 L216.93,195.67 L217.55,195.67 L218.17,195.67 L218.79,195.67 L219.41,195.67 L220.03,195.67 L220.65,195.67 L221.27,195.67 L221.89,195.67 L222.51,195.67 L223.13,195.66 L223.75,195.66 L224.37,195.66 L224.99,195.66 L225.61,195.66 L226.23,195.66 L226.85,195.66 L227.47,195.66 L228.09,195.66 L228.71,195.66 L229.33,195.65 L229.95,195.65 L230.57,195.65 L231.19,195.65 L231.81,195.65 L232.43,195.65 L233.05,195.65 L233.67,195.65 L234.29,195.64 L234.91,195.64 L235.53,195.64 L236.15,195.64 L236.77,195.64 L237.39,195.64 L238.01,195.64 L238.63,195.63 L239.25,195.63 L239.87,195.63 L240.49,195.63 L241.11,195.63 L241.73,195.63 L242.35,195.62 L242.97,195.62 L243.58,195.62 L244.20,195.62 L244.82,195.62 L245.44,195.61 L246.06,195.61 L246.68,195.61 L247.30,195.61 L247.92,195.61 L248.54,195.60 L249.16,195.60 L249.78,195.60 L250.40,195.60 L251.02,195.59 L251.64,195.59 L252.26,195.59 L252.88,195.59 L253.50,195.58 L254.12,195.58 L254.74,195.58 L255.36,195.57 L255.98,195.57 L256.60,195.57 L257.22,195.57 L257.84,195.56 L258.46,195.56 L259.08,195.56 L259.70,195.55 L260.32,195.55 L260.94,195.54 L261.56,195.54 L262.18,195.54 L262.80,195.53 L263.42,195.53 L264.04,195.53 L264.66,195.52 L265.28,195.52 L265.90,195.51 L266.52,195.51 L267.14,195.50 L267.76,195.50 L268.38,195.49 L269.00,195.49 L269.62,195.48 L270.24,195.48 L270.86,195.47 L271.48,195.47 L272.10,195.46 L272.72,195.46 L273.34,195.45 L273.96,195.45 L274.58,195.44 L275.20,195.43 L275.82,195.43 L276.44,195.42 L277.06,195.41 L277.68,195.41 L278.30,195.40 L278.92,195.39 L279.54,195.39 L280.16,195.38 L280.78,195.37 L281.40,195.36 L282.02,195.36 L282.64,195.35 L283.26,195.34 L283.88,195.33 L284.50,195.32 L285.12,195.31 L285.74,195.31 L286.36,195.30 L286.98,195.29 L287.60,195.28 L288.22,195.27 L288.84,195.26 L289.46,195.25 L290.08,195.24 L290.70,195.23 L291.32,195.21 L291.94,195.20 L292.56,195.19 L293.17,195.18 L293.79,195.17 L294.41,195.16 L295.03,195.14 L295.65,195.13 L296.27,195.12 L296.89,195.10 L297.51,195.09 L298.13,195.07 L298.75,195.06 L299.37,195.05 L299.99,195.03 L300.61,195.02 L301.23,195.00 L301.85,194.98 L302.47,194.97 L303.09,194.95 L303.71,194.93 L304.33,194.92 L304.95,194.90 L305.57,194.88 L306.19,194.86 L306.81,194.84 L307.43,194.82 L308.05,194.80 L308.67,194.78 L309.29,194.76 L309.91,194.74 L310.53,194.72 L311.15,194.69 L311.77,194.67 L312.39,194.65 L313.01,194.62 L313.63,194.60 L314.25,194.58 L314.87,194.55 L315.49,194.52 L316.11,194.50 L316.73,194.47 L317.35,194.44 L317.97,194.42 L318.59,194.39 L319.21,194.36 L319.83,194.33 L320.45,194.30 L321.07,194.27 L321.69,194.24 L322.31,194.21 L322.93,194.17 L323.55,194.14 L324.17,194.11 L324.79,194.07 L325.41,194.04 L326.03,194.00 L326.65,193.97 L327.27,193.93 L327.89,193.90 L328.51,193.86 L329.13,193.82 L329.75,193.79 L330.37,193.75 L330.99,193.71 L331.61,193.67 L332.23,193.63 L332.85,193.59 L333.47,193.55 L334.09,193.51 L334.71,193.47 L335.33,193.42 L335.95,193.38 L336.57,193.33 L337.19,193.29 L337.81,193.24 L338.43,193.19 L339.05,193.14 L339.67,193.09 L340.29,193.04 L340.91,192.98 L341.53,192.93 L342.14,192.87 L342.76,192.81 L343.38,192.75 L344.00,192.69 L344.62,192.62 L345.24,192.56 L345.86,192.49 L346.48,192.42 L347.10,192.35 L347.72,192.28 L348.34,192.21 L348.96,192.13 L349.58,192.05 L350.20,191.97 L350.82,191.89 L351.44,191.80 L352.06,191.71 L352.68,191.62 L353.30,191.52 L353.92,191.43 L354.54,191.32 L355.16,191.22 L355.78,191.11 L356.40,191.00 L357.02,190.89 L357.64,190.77 L358.26,190.65 L358.88,190.53 L359.50,190.40 L360.12,190.27 L360.74,190.14 L361.36,190.01 L361.98,189.87 L362.60,189.73 L363.22,189.58 L363.84,189.43 L364.46,189.28 L365.08,189.13 L365.70,188.97 L366.32,188.80 L366.94,188.64 L367.56,188.47 L368.18,188.30 L368.80,188.12 L369.42,187.94 L370.04,187.76 L370.66,187.57 L371.28,187.38 L371.90,187.19 L372.52,187.00 L373.14,186.80 L373.76,186.60 L374.38,186.40 L375.00,186.19 L375.62,185.98 L376.24,185.77 L376.86,185.55 L377.48,185.33 L378.10,185.11 L378.72,184.88 L379.34,184.65 L379.96,184.41 L380.58,184.17 L381.20,183.93 L381.82,183.68 L382.44,183.43 L383.06,183.17 L383.68,182.91 L384.30,182.65 L384.92,182.38 L385.54,182.11 L386.16,181.83 L386.78,181.55 L387.40,181.27 L388.02,180.98 L388.64,180.69 L389.26,180.39 L389.88,180.09 L390.50,179.78 L391.12,179.47 L391.74,179.15 L392.35,178.83 L392.97,178.51 L393.59,178.18 L394.21,177.85 L394.83,177.51 L395.45,177.17 L396.07,176.83 L396.69,176.48 L397.31,176.13 L397.93,175.77 L398.55,175.41 L399.17,175.04 L399.79,174.68 L400.41,174.30 L401.03,173.93 L401.65,173.55 L402.27,173.16 L402.89,172.77 L403.51,172.38 L404.13,171.99 L404.75,171.59 L405.37,171.19 L405.99,170.79 L406.61,170.38 L407.23,169.97 L407.85,169.56 L408.47,169.14 L409.09,168.72 L409.71,168.30 L410.33,167.88 L410.95,167.45 L411.57,167.03 L412.19,166.60 L412.81,166.17 L413.43,165.74 L414.05,165.31 L414.67,164.87 L415.29,164.44 L415.91,164.00 L416.53,163.57 L417.15,163.13 L417.77,162.69 L418.39,162.26 L419.01,161.82 L419.63,161.39 L420.25,160.95 L420.87,160.52 L421.49,160.08 L422.11,159.65 L422.73,159.22 L423.35,158.79 L423.97,158.36 L424.59,157.93 L425.21,157.50 L425.83,157.08 L426.45,156.65 L427.07,156.23 L427.69,155.82 L428.31,155.40 L428.93,154.99 L429.55,154.58 L430.17,154.17 L430.79,153.77 L431.41,153.37 L432.03,152.97 L432.65,152.57 L433.27,152.18 L433.89,151.79 L434.51,151.40 L435.13,151.02 L435.75,150.64 L436.37,150.26 L436.99,149.88 L437.61,149.51 L438.23,149.14 L438.85,148.78 L439.47,148.41 L440.09,148.05 L440.71,147.69 L441.32,147.34 L441.94,146.98 L442.56,146.63 L443.18,146.28 L443.80,145.93 L444.42,145.59 L445.04,145.25 L445.66,144.90 L446.28,144.56 L446.90,144.22 L447.52,143.89 L448.14,143.55 L448.76,143.22 L449.38,142.88 L450.00,142.55 L450.62,142.21 L451.24,141.88 L451.86,141.55 L452.48,141.22 L453.10,140.89 L453.72,140.55 L454.34,140.22 L454.96,139.89 L455.58,139.56 L456.20,139.23 L456.82,138.89 L457.44,138.56 L458.06,138.23 L458.68,137.89 L459.30,137.56 L459.92,137.22 L460.54,136.89 L461.16,136.55 L461.78,136.22 L462.40,135.88 L463.02,135.54 L463.64,135.21 L464.26,134.87 L464.88,134.53 L465.50,134.19 L466.12,133.85 L466.74,133.51 L467.36,133.18 L467.98,132.84 L468.60,132.50 L469.22,132.16 L469.84,131.82 L470.46,131.48 L471.08,131.14 L471.70,130.80 L472.32,130.46 L472.94,130.12 L473.56,129.78 L474.18,129.44 L474.80,129.09 L475.42,128.75 L476.04,128.41 L476.66,128.07 L477.28,127.73 L477.90,127.39 L478.52,127.05 L479.14,126.71 L479.76,126.37 L480.38,126.03 L481.00,125.69 L481.62,125.35 L482.24,125.01 L482.86,124.67 L483.48,124.33 L484.10,123.99 L484.72,123.65 L485.34,123.31 L485.96,122.97 L486.58,122.63 L487.20,122.29 L487.82,121.95 L488.44,121.61 L489.06,121.27 L489.68,120.93 L490.30,120.59 L490.91,120.25 L491.53,119.91 L492.15,119.57 L492.77,119.23 L493.39,118.89 L494.01,118.55 L494.63,118.21 L495.25,117.87 L495.87,117.53 L496.49,117.19 L497.11,116.86 L497.73,116.52 L498.35,116.18 L498.97,115.84 L499.59,115.50 L500.21,115.16 L500.83,114.82 L501.45,114.48 L502.07,114.14 L502.69,113.80 L503.31,113.46 L503.93,113.12 L504.55,112.78 L505.17,112.44 L505.79,112.10 L506.41,111.76 L507.03,111.42 L507.65,111.08 L508.27,110.74 L508.89,110.40 L509.51,110.06 L510.13,109.72 L510.75,109.38 L511.37,109.04 L511.99,108.70 L512.61,108.36 L513.23,108.02 L513.85,107.68 L514.47,107.34 L515.09,107.00 L515.71,106.66 L516.33,106.32 L516.95,105.98 L517.57,105.64 L518.19,105.30 L518.81,104.96 L519.43,104.62 L520.05,104.28 L520.67,103.94 L521.29,103.60 L521.91,103.26 L522.53,102.92 L523.15,102.58 L523.77,102.24 L524.39,101.90 L525.01,101.56 L525.63,101.22 L526.25,100.88 L526.87,100.54 L527.49,100.20 L528.11,99.86 L528.73,99.52 L529.35,99.18 L529.97,98.84 L530.59,98.50 L531.21,98.16 L531.83,97.82 L532.45,97.48 L533.07,97.14 L533.69,96.80 L534.31,96.46 L534.93,96.12 L535.55,95.78 L536.17,95.44 L536.79,95.10 L537.41,94.76 L538.03,94.42 L538.65,94.08 L539.27,93.74 L539.89,93.40 L540.50,93.06 L541.12,92.72 L541.74,92.38 L542.36,92.04 L542.98,91.70 L543.60,91.36 L544.22,91.02 L544.84,90.68 L545.46,90.34 L546.08,90.00 L546.70,89.67 L547.32,89.33 L547.94,88.99 L548.56,88.65 L549.18,88.31 L549.80,87.97 L550.42,87.63 L551.04,87.29 L551.66,86.95 L552.28,86.61 L552.90,86.27 L553.52,85.93 L554.14,85.59 L554.76,85.25 L555.38,84.91 L556.00,84.57 L556.62,84.23 L557.24,83.89 L557.86,83.55 L558.48,83.21 L559.10,82.87 L559.72,82.53 L560.34,82.19 L560.96,81.85 L561.58,81.51 L562.20,81.17 L562.82,80.83 L563.44,80.49 L564.06,80.15 L564.68,79.81 L565.30,79.47" stroke="#00809c" stroke-dasharray="2.75 2.75"/>
</g>
<rect x="69.25" y="72.45" width="496.15" height="292.55" fill="none" stroke="#0a0a0a" stroke-width="1.25"/>
<text transform="translate(43.35,392.02) scale(0.2448,0.2341)" font-size="100" stroke="#fff" stroke-width="1.253">10</text><text transform="translate(68.18,385.49) scale(0.2430,0.1900)" font-size="100">−</text><text transform="translate(83.72,383.60) scale(0.1950,0.1652)" font-size="100">2</text>
<text transform="translate(9.95,374.97) scale(0.2448,0.2341)" font-size="100" stroke="#fff" stroke-width="1.253">10</text><text transform="translate(34.78,368.44) scale(0.2430,0.1900)" font-size="100">−</text><text transform="translate(50.32,366.55) scale(0.1950,0.1652)" font-size="100">2</text>
<text transform="translate(167.32,392.02) scale(0.2448,0.2341)" font-size="100" stroke="#fff" stroke-width="1.253">10</text><text transform="translate(192.16,385.49) scale(0.2430,0.1900)" font-size="100">−</text><text transform="translate(207.48,383.60) scale(0.1771,0.1664)" font-size="100">1</text>
<text transform="translate(9.95,306.99) scale(0.2448,0.2341)" font-size="100" stroke="#fff" stroke-width="1.253">10</text><text transform="translate(34.78,300.47) scale(0.2430,0.1900)" font-size="100">−</text><text transform="translate(50.11,298.57) scale(0.1771,0.1664)" font-size="100">1</text>
<text transform="translate(299.50,392.02) scale(0.2448,0.2341)" font-size="100" stroke="#fff" stroke-width="1.253">10</text><text transform="translate(323.89,383.44) scale(0.1905,0.1615)" font-size="100">0</text>
<text transform="translate(25.65,238.42) scale(0.2448,0.2341)" font-size="100" stroke="#fff" stroke-width="1.253">10</text><text transform="translate(50.04,229.84) scale(0.1905,0.1615)" font-size="100">0</text>
<text transform="translate(423.47,392.02) scale(0.2448,0.2341)" font-size="100" stroke="#fff" stroke-width="1.253">10</text><text transform="translate(447.83,383.60) scale(0.1771,0.1664)" font-size="100">1</text>
<text transform="translate(25.65,170.44) scale(0.2448,0.2341)" font-size="100" stroke="#fff" stroke-width="1.253">10</text><text transform="translate(50.01,162.03) scale(0.1771,0.1664)" font-size="100">1</text>
<text transform="translate(547.45,392.02) scale(0.2448,0.2341)" font-size="100" stroke="#fff" stroke-width="1.253">10</text><text transform="translate(571.70,383.60) scale(0.2000,0.1652)" font-size="100">2</text>
<text transform="translate(25.65,102.47) scale(0.2448,0.2341)" font-size="100" stroke="#fff" stroke-width="1.253">10</text><text transform="translate(49.90,94.05) scale(0.2000,0.1652)" font-size="100">2</text>
<text transform="translate(293.79,422.48) scale(0.2968,0.2979)" font-size="100" class="i" stroke="#fff" stroke-width="0.504">ω</text>
<text transform="translate(315.35,428.52) scale(0.3782,0.4331)" font-size="100" stroke="#fff" stroke-width="1.235">/</text>
<text transform="translate(328.14,422.39) scale(0.2221,0.2850)" font-size="100" class="i" stroke="#fff" stroke-width="0.596">b</text>
<text transform="translate(30.69,37.18) scale(0.2861,0.2697)" font-size="100" stroke="#fff" stroke-width="1.080">Re</text>
<text transform="translate(67.05,37.15) scale(0.2919,0.2257)" font-size="100" class="i" stroke="#fff" stroke-width="0.584">σ</text>
<text transform="translate(84.44,41.80) scale(0.2382,0.1934)" font-size="100" class="i">x</text>
<text transform="translate(97.14,41.80) scale(0.2360,0.1934)" font-size="100" class="i">x</text>
<text transform="translate(111.15,43.93) scale(0.4182,0.4180)" font-size="100" stroke="#fff" stroke-width="1.196">/</text>
<text transform="translate(129.17,23.07) scale(0.1937,0.1846)" font-size="100" class="i" stroke="#000" stroke-width="0.793">N</text>
<text transform="translate(144.98,26.55) scale(0.1934,0.1131)" font-size="100" class="i" stroke="#000" stroke-width="1.014">f</text>
<text transform="translate(158.87,23.07) scale(0.1937,0.1846)" font-size="100" class="i" stroke="#000" stroke-width="0.793">N</text>
<text transform="translate(175.58,26.00) scale(0.1642,0.1260)" font-size="100" class="i" stroke="#000" stroke-width="1.043">c</text>
<path d="M127.1,30.3H184.7" stroke="#000" stroke-width="0.9"/>
<text transform="translate(138.78,46.43) scale(0.1888,0.1812)" font-size="100" stroke="#000" stroke-width="0.649">4</text>
<text transform="translate(149.26,46.28) scale(0.2035,0.1609)" font-size="100" class="i" stroke="#000" stroke-width="0.663">π</text>
<text transform="translate(161.73,41.34) scale(0.2295,0.1255)" font-size="100" stroke="#000" stroke-width="0.707">2</text>
<text transform="translate(187.93,37.20) scale(0.2477,0.2707)" font-size="100" class="i" stroke="#fff" stroke-width="0.579">b</text>
</svg></body></html>
